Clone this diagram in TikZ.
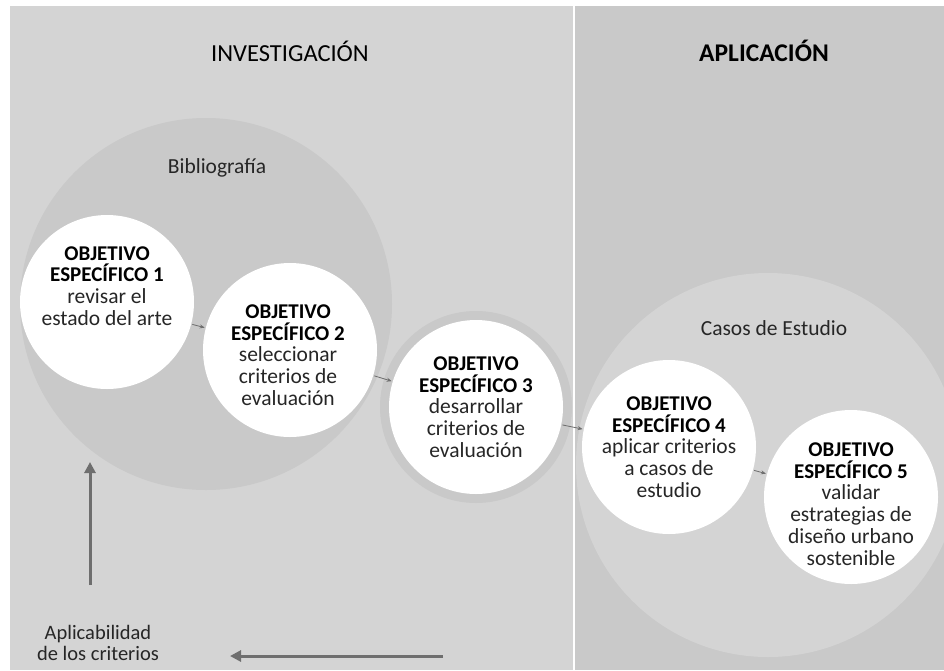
\documentclass[tikz,border=0pt]{standalone}
\usepackage{fontspec}
\setmainfont{Carlito}
\usetikzlibrary{arrows.meta}
\definecolor{panelleft}{HTML}{D4D4D4}
\definecolor{panelright}{HTML}{C9C9C9}
\definecolor{ringgrey}{HTML}{C9C9C9}
\definecolor{arrowgrey}{HTML}{6E6E6E}
\definecolor{textgrey}{HTML}{262626}
\newcommand{\hd}[1]{\textbf{\fontsize{21}{21.7}\selectfont\color{black}#1}}
\newcommand{\objhead}[1]{\hd{OBJETIVO}\\\hd{ESPECÍFICO #1}}
\begin{document}
\begin{tikzpicture}[x=1pt, y=-1pt,
    objcircle/.style={circle, fill=white, minimum size=174pt, inner sep=0pt},
    objtext/.style={align=center, text=textgrey, font=\fontsize{21.5}{21.7}\selectfont},
    title/.style={font=\fontsize{24.5}{26}\selectfont},
    label/.style={align=center, text=textgrey, font=\fontsize{21.5}{21}\selectfont},
    smallarrow/.style={-{Stealth[length=5pt, width=4pt]}, draw=arrowgrey, line width=0.8pt, shorten <=1pt, shorten >=1pt},
    bigarrow/.style={-{Triangle[length=11pt, width=11pt]}, draw=arrowgrey, line width=3pt}]

    \useasboundingbox (0,0) rectangle (944,670);
    \fill[white] (0,0) rectangle (944,670);

    % panels
    \fill[panelleft] (10,6) rectangle (573,670);
    \fill[panelright] (575,6) rectangle (944,670);

    % big circles
    \begin{scope}
        \clip (10,6) rectangle (573,670);
        \fill[panelright] (206,304) circle (186);
    \end{scope}
    \begin{scope}
        \clip (575,6) rectangle (944,670);
        \fill[panelleft] (768,465) circle (192);
    \end{scope}
    \fill[ringgrey] (476,407) circle (96);

    % titles
    \node (inv) [title] at (290,51) {INVESTIGACIÓN};
    \node (apl) [title, font=\fontsize{25.5}{26}\selectfont\bfseries] at (764,51) {APLICACIÓN};
    \node (bib) [label] at (217,168) {Bibliografía};
    \node (cas) [label] at (774,328) {Casos de Estudio};

    % objective circles
    \node (c1) [objcircle] at (107,302) {};
    \node (c2) [objcircle] at (290,350) {};
    \node (c3) [objcircle] at (476,407) {};
    \node (c4) [objcircle] at (669,447) {};
    \node (c5) [objcircle] at (851,497) {};

    \node (t1) [objtext] at ([yshift=16pt]c1.center) {\objhead{1}\\revisar el\\estado del arte};
    \node (t2) [objtext] at ([xshift=-2pt, yshift=-5pt]c2.center) {\objhead{2}\\seleccionar\\criterios de\\evaluación};
    \node (t3) [objtext] at (c3.center) {\objhead{3}\\desarrollar\\criterios de\\evaluación};
    \node (t4) [objtext] at (c4.center) {\objhead{4}\\aplicar criterios\\a casos de\\estudio};
    \node (t5) [objtext] at ([yshift=-7pt]c5.center) {\objhead{5}\\validar\\estrategias de\\diseño urbano\\sostenible};

    \draw[smallarrow] (c1) -- (c2);
    \draw[smallarrow] (c2) -- (c3);
    \draw[smallarrow] (c3) -- (c4);
    \draw[smallarrow] (c4) -- (c5);

    % feedback
    \node (apc) [label, font=\fontsize{20.5}{21}\selectfont] at (98,643) {Aplicabilidad\\de los criterios};
    \coordinate (vbot) at (90,585);
    \coordinate (vtop) at (90,462);
    \coordinate (hright) at (443,656);
    \coordinate (hleft) at (230,656);
    \draw[bigarrow] (vbot) -- (vtop);
    \draw[bigarrow] (hright) -- (hleft);

\end{tikzpicture}
\end{document}
